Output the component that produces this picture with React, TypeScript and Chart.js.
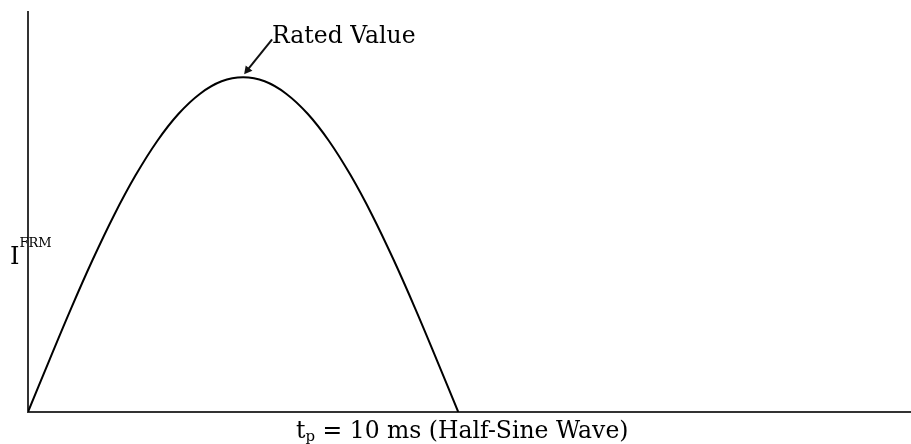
import React, { useEffect, useRef } from "react";
import { Chart, registerables } from "chart.js";

Chart.register(...registerables);

// time in ms, current normalised to rated value
const timeMs = [0, 0.5, 1, 1.5, 2, 2.5, 3, 3.5, 4, 4.5, 5, 5.5, 6, 6.5, 7, 7.5, 8, 8.5, 9, 9.5, 10];
const current = [0, 0.156, 0.309, 0.454, 0.588, 0.707, 0.809, 0.891, 0.951, 0.988, 1.0, 0.988, 0.951, 0.891, 0.809, 0.707, 0.588, 0.454, 0.309, 0.156, 0];
const peakLabel = "Rated Value";
const yLabelMain = "I";
const yLabelSup = "FRM";
const xLabelMain = "t";
const xLabelSub = "p";
const xLabelRest = " = 10 ms (Half-Sine Wave)";
const xMax = 20.5;
const yMax = 1.195;

const labelPlugin = {
  id: "labels",
  afterDraw(chart: any) {
    const ctx = chart.ctx as CanvasRenderingContext2D;
    const xs = chart.scales.x;
    const ys = chart.scales.y;
    const peakIdx = current.indexOf(Math.max(...current));
    const px = xs.getPixelForValue(timeMs[peakIdx]);
    const py = ys.getPixelForValue(current[peakIdx]);
    ctx.save();
    const serif = '"DejaVu Serif", "Liberation Serif", serif';
    // arrow
    const sx = px + 29;
    const sy = py - 38;
    const ex = px + 1;
    const ey = py - 3;
    ctx.strokeStyle = "#111";
    ctx.fillStyle = "#111";
    ctx.lineWidth = 2;
    ctx.beginPath();
    ctx.moveTo(sx, sy);
    ctx.lineTo(ex + 3, ey - 4);
    ctx.stroke();
    const ang = Math.atan2(ey - sy, ex - sx);
    const hl = 9;
    ctx.beginPath();
    ctx.moveTo(ex, ey);
    ctx.lineTo(ex - hl * Math.cos(ang - 0.5), ey - hl * Math.sin(ang - 0.5));
    ctx.lineTo(ex - hl * Math.cos(ang + 0.5), ey - hl * Math.sin(ang + 0.5));
    ctx.closePath();
    ctx.fill();
    // peak label
    ctx.fillStyle = "#000";
    ctx.font = `23.5px ${serif}`;
    ctx.textBaseline = "alphabetic";
    ctx.textAlign = "left";
    ctx.fillText(peakLabel, px + 29, py - 34);
    // y label
    ctx.font = `24px ${serif}`;
    ctx.fillText(yLabelMain, 10, 264);
    const iw = ctx.measureText(yLabelMain).width;
    ctx.font = `13px ${serif}`;
    ctx.fillText(yLabelSup, 10 + iw, 247);
    // x label
    let x = 296;
    const base = 438;
    ctx.font = `23.5px ${serif}`;
    ctx.fillText(xLabelMain, x, base);
    x += ctx.measureText(xLabelMain).width;
    ctx.font = `15px ${serif}`;
    ctx.fillText(xLabelSub, x, base + 3);
    x += ctx.measureText(xLabelSub).width;
    ctx.font = `23.5px ${serif}`;
    ctx.fillText(xLabelRest, x, base);
    ctx.restore();
  },
};

export default function App() {
  const ref = useRef<HTMLCanvasElement>(null);
  useEffect(() => {
    if (!ref.current) return;
    const chart = new Chart(ref.current, {
      type: "line",
      data: {
        datasets: [
          {
            data: timeMs.map((t, i) => ({ x: t, y: current[i] })),
            borderColor: "#000",
            borderWidth: 2,
            pointRadius: 0,
            tension: 0.4,
            fill: false,
          },
        ],
      },
      options: {
        animation: false,
        responsive: false,
        layout: { padding: { left: 28, top: 12, right: 1, bottom: 32 } },
        plugins: { legend: { display: false }, tooltip: { enabled: false } },
        scales: {
          x: {
            type: "linear",
            min: 0,
            max: xMax,
            grid: { display: false, drawTicks: false },
            ticks: { display: false },
            border: { display: true, color: "#333", width: 2 },
          },
          y: {
            min: 0,
            max: yMax,
            grid: { display: false, drawTicks: false },
            ticks: { display: false },
            border: { display: true, color: "#333", width: 2 },
          },
        },
      },
      plugins: [labelPlugin],
    });
    return () => chart.destroy();
  }, []);
  return (
    <div style={{ position: "fixed", left: 0, top: 0, width: 911, height: 444, background: "#fff" }}>
      <canvas ref={ref} width={911} height={444} style={{ width: 911, height: 444, display: "block" }} />
    </div>
  );
}
